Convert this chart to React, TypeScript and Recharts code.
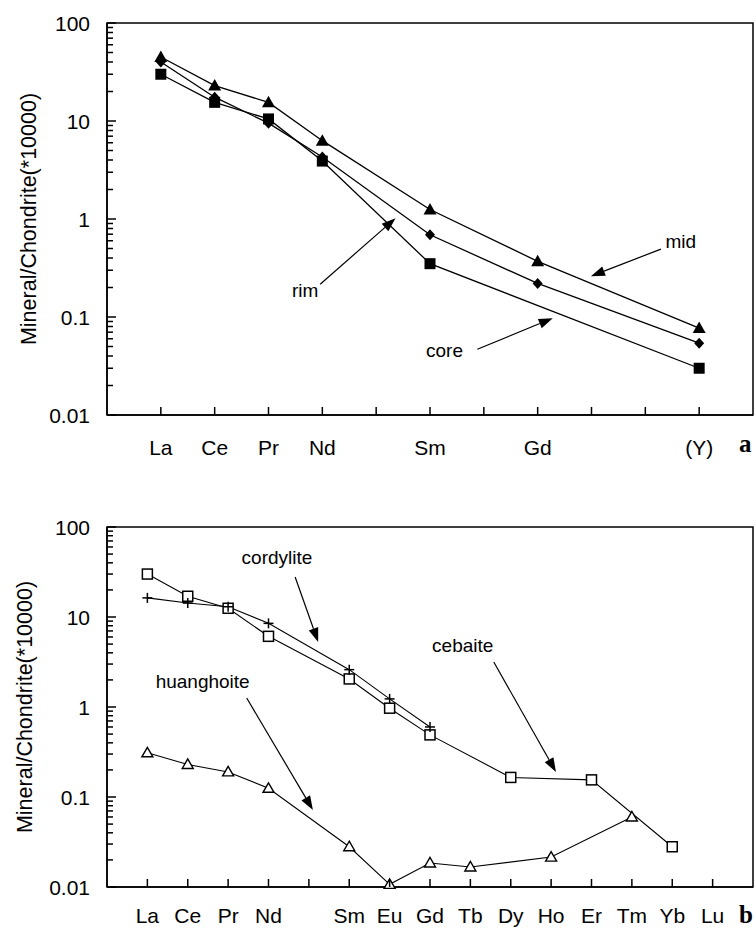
import { Line, LineChart, ReferenceArea, ReferenceDot, ReferenceLine, XAxis, YAxis } from 'recharts';

const FONT = '"Liberation Sans", Arial, Helvetica, sans-serif';

// panel a: REE positions, (Y) plotted in the Ho slot
const elementsA = ['La', 'Ce', 'Pr', 'Nd', 'Pm', 'Sm', 'Eu', 'Gd', 'Tb', 'Dy', '(Y)'];
const labelledA = ['La', 'Ce', 'Pr', 'Nd', 'Sm', 'Gd', '(Y)'];
const midA = [45, 23, 15.5, 6.3, null, 1.25, null, 0.37, null, null, 0.077];
const rimA = [40, 17.5, 9.5, 4.3, null, 0.69, null, 0.22, null, null, 0.054];
const coreA = [30, 15.5, 10.5, 3.9, null, 0.35, null, null, null, null, 0.03];

// panel b
const elementsB = ['La', 'Ce', 'Pr', 'Nd', 'Pm', 'Sm', 'Eu', 'Gd', 'Tb', 'Dy', 'Ho', 'Er', 'Tm', 'Yb', 'Lu'];
const labelledB = ['La', 'Ce', 'Pr', 'Nd', 'Sm', 'Eu', 'Gd', 'Tb', 'Dy', 'Ho', 'Er', 'Tm', 'Yb', 'Lu'];
const cebaiteB = [30, 17, 12.5, 6.1, null, 2.05, 0.97, 0.49, null, 0.165, null, 0.155, null, 0.028, null];
const cordyliteB = [16.3, 14.3, 13, 8.5, null, 2.6, 1.23, 0.6, null, null, null, null, null, null, null];
const huanghoiteB = [0.31, 0.23, 0.19, 0.125, null, 0.028, 0.0107, 0.0185, 0.0167, null, 0.0215, null, 0.06, null, null];

const majorTicks = [0.01, 0.1, 1, 10, 100];
const minorSteps = [2, 3, 4, 5, 6, 7, 8, 9];

// annotation text [label, x, y] and arrows [x1, y1, x2, y2] in data units
const notesA: [string, number, number][] = [
  ['mid', 9.66, 0.6],
  ['core', 5.27, 0.0457],
  ['rim', 2.68, 0.188],
];
const arrowsA: [number, number, number, number][] = [
  [9.29, 0.493, 7.99, 0.261],
  [5.88, 0.0469, 7.28, 0.0972],
  [2.96, 0.216, 4.36, 1.02],
];
const notesB: [string, number, number][] = [
  ['cordylite', 3.21, 46.4],
  ['huanghoite', 1.37, 1.94],
  ['cebaite', 7.81, 4.88],
];
const arrowsB: [number, number, number, number][] = [
  [3.66, 27.8, 4.23, 5.28],
  [2.46, 1.26, 4.1, 0.0718],
  [8.58, 3.16, 10.12, 0.19],
];

const yTicks = majorTicks
  .slice(0, -1)
  .flatMap((m) => [m, ...minorSteps.map((s) => Number((m * s).toPrecision(3)))])
  .concat([100]);

function buildRows(elements: string[], series: Record<string, (number | null)[]>) {
  return elements.map((el, i) => {
    const row: Record<string, number | string | null> = { x: i, el };
    Object.keys(series).forEach((k) => {
      row[k] = series[k][i];
    });
    return row;
  });
}

const rowsA = buildRows(elementsA, { mid: midA, rim: rimA, core: coreA });
const rowsB = buildRows(elementsB, { cebaite: cebaiteB, cordylite: cordyliteB, huanghoite: huanghoiteB });

// log axis: ticks point inward, labels only on decades
function YTick(props: any) {
  const { x, y, payload } = props;
  const major = majorTicks.includes(payload.value);
  return (
    <g>
      <line x1={x} y1={y} x2={x + (major ? 9 : 6)} y2={y} stroke='#000' strokeWidth={1.5} />
      {major && (
        <text x={x - 17} y={y} dy='0.36em' textAnchor='end' fontSize={21} fontFamily={FONT} fill='#000'>
          {String(payload.value)}
        </text>
      )}
    </g>
  );
}

function makeXTick(elements: string[], labelled: string[], gap: number) {
  return function XTick(props: any) {
    const { x, y, payload } = props;
    const name = elements[payload.value];
    return (
      <g>
        <line x1={x} y1={y} x2={x} y2={y - 8} stroke='#000' strokeWidth={1.5} />
        {labelled.includes(name) && (
          <text x={x} y={y + gap} dy='0.36em' textAnchor='middle' fontSize={21} fontFamily={FONT} fill='#000'>
            {name}
          </text>
        )}
      </g>
    );
  };
}

function Arrow(props: any) {
  const { x1, y1, x2, y2 } = props;
  if ([x1, y1, x2, y2].some((v) => v == null || Number.isNaN(v))) return <g />;
  const ang = Math.atan2(y2 - y1, x2 - x1);
  const len = 14;
  const half = 5;
  const bx = x2 - len * Math.cos(ang);
  const by = y2 - len * Math.sin(ang);
  const pts = [
    `${x2},${y2}`,
    `${bx - half * Math.sin(ang)},${by + half * Math.cos(ang)}`,
    `${bx + half * Math.sin(ang)},${by - half * Math.cos(ang)}`,
  ].join(' ');
  return (
    <g>
      <line x1={x1} y1={y1} x2={bx} y2={by} stroke='#000' strokeWidth={1.2} />
      <polygon points={pts} fill='#000' />
    </g>
  );
}

function noteShape(text: string) {
  return (props: any) => (
    <text x={props.cx} y={props.cy} dy='0.36em' textAnchor='middle' fontSize={19} fontFamily={FONT} fill='#000'>
      {text}
    </text>
  );
}

type Mark = 'triangle' | 'diamond' | 'square' | 'openSquare' | 'plus' | 'openTriangle';

function makeDot(kind: Mark) {
  return (props: any) => {
    const { cx, cy, index, value } = props;
    if (cx == null || cy == null || value == null) return <g key={`d-${index}`} />;
    switch (kind) {
      case 'triangle':
        return <polygon key={index} points={`${cx},${cy - 6.5} ${cx - 6.5},${cy + 5} ${cx + 6.5},${cy + 5}`} fill='#000' />;
      case 'diamond':
        return <polygon key={index} points={`${cx},${cy - 5.5} ${cx + 5},${cy} ${cx},${cy + 5.5} ${cx - 5},${cy}`} fill='#000' />;
      case 'square':
        return <rect key={index} x={cx - 5.5} y={cy - 5.5} width={11} height={11} fill='#000' />;
      case 'openSquare':
        return <rect key={index} x={cx - 5} y={cy - 5} width={10} height={10} fill='#fff' stroke='#000' strokeWidth={1.5} />;
      case 'plus':
        return (
          <g key={index}>
            <line x1={cx - 5} y1={cy} x2={cx + 5} y2={cy} stroke='#000' strokeWidth={1.5} />
            <line x1={cx} y1={cy - 5} x2={cx} y2={cy + 5} stroke='#000' strokeWidth={1.5} />
          </g>
        );
      default:
        return (
          <polygon
            key={index}
            points={`${cx},${cy - 5.5} ${cx - 5.5},${cy + 4} ${cx + 5.5},${cy + 4}`}
            fill='#fff'
            stroke='#000'
            strokeWidth={1.4}
          />
        );
    }
  };
}

const yTitle = (offset: number) => ({
  value: 'Mineral/Chondrite(*10000)',
  angle: -90,
  position: 'insideLeft' as const,
  offset,
  style: { textAnchor: 'middle', fontSize: 21.5, fontFamily: FONT, fill: '#000' },
});

export default function App() {
  const lastA = elementsA.length;
  const lastB = elementsB.length;
  return (
    <div style={{ position: 'absolute', left: 0, top: 0, width: 756, height: 931, background: '#fff' }}>
      <div style={{ position: 'absolute', left: 0, top: 0 }}>
        <LineChart width={756} height={470} data={rowsA} margin={{ top: 23, right: 3, bottom: 15, left: 0 }}>
          <XAxis
            type='number'
            dataKey='x'
            domain={[-1, lastA]}
            ticks={elementsA.map((_, i) => i)}
            interval={0}
            height={40}
            tickSize={0}
            tickMargin={0}
            tickLine={false}
            axisLine={{ stroke: '#000', strokeWidth: 1.5 }}
            tick={makeXTick(elementsA, labelledA, 32)}
          />
          <YAxis
            type='number'
            scale='log'
            domain={[0.01, 100]}
            ticks={yTicks}
            interval={0}
            width={107}
            tickSize={0}
            tickMargin={0}
            tickLine={false}
            axisLine={{ stroke: '#000', strokeWidth: 1.5 }}
            tick={YTick}
            label={yTitle(28)}
          />
          <ReferenceArea x1={-1} x2={lastA} y1={0.01} y2={100} fill='none' stroke='#000' strokeWidth={1.5} />
          <Line dataKey='core' stroke='#000' strokeWidth={1.3} connectNulls dot={makeDot('square')} isAnimationActive={false} />
          <Line dataKey='rim' stroke='#000' strokeWidth={1.3} connectNulls dot={makeDot('diamond')} isAnimationActive={false} />
          <Line dataKey='mid' stroke='#000' strokeWidth={1.3} connectNulls dot={makeDot('triangle')} isAnimationActive={false} />
          {arrowsA.map(([x1, y1, x2, y2], i) => (
            <ReferenceLine key={`aa${i}`} segment={[{ x: x1, y: y1 }, { x: x2, y: y2 }]} shape={Arrow} />
          ))}
          {notesA.map(([t, x, y]) => (
            <ReferenceDot key={t} x={x} y={y} r={1} shape={noteShape(t)} />
          ))}
        </LineChart>
      </div>
      <div style={{ position: 'absolute', left: 0, top: 470 }}>
        <LineChart width={756} height={461} data={rowsB} margin={{ top: 57, right: 3, bottom: 10, left: 0 }}>
          <XAxis
            type='number'
            dataKey='x'
            domain={[-1, lastB]}
            ticks={elementsB.map((_, i) => i)}
            interval={0}
            height={34}
            tickSize={0}
            tickMargin={0}
            tickLine={false}
            axisLine={{ stroke: '#000', strokeWidth: 1.5 }}
            tick={makeXTick(elementsB, labelledB, 28)}
          />
          <YAxis
            type='number'
            scale='log'
            domain={[0.01, 100]}
            ticks={yTicks}
            interval={0}
            width={107}
            tickSize={0}
            tickMargin={0}
            tickLine={false}
            axisLine={{ stroke: '#000', strokeWidth: 1.5 }}
            tick={YTick}
            label={yTitle(24)}
          />
          <ReferenceArea x1={-1} x2={lastB} y1={0.01} y2={100} fill='none' stroke='#000' strokeWidth={1.5} />
          <Line dataKey='huanghoite' stroke='#000' strokeWidth={1.1} connectNulls dot={makeDot('openTriangle')} isAnimationActive={false} />
          <Line dataKey='cebaite' stroke='#000' strokeWidth={1.1} connectNulls dot={makeDot('openSquare')} isAnimationActive={false} />
          <Line dataKey='cordylite' stroke='#000' strokeWidth={1.1} connectNulls dot={makeDot('plus')} isAnimationActive={false} />
          {arrowsB.map(([x1, y1, x2, y2], i) => (
            <ReferenceLine key={`ab${i}`} segment={[{ x: x1, y: y1 }, { x: x2, y: y2 }]} shape={Arrow} />
          ))}
          {notesB.map(([t, x, y]) => (
            <ReferenceDot key={t} x={x} y={y} r={1} shape={noteShape(t)} />
          ))}
        </LineChart>
      </div>
      <div style={{ position: 'absolute', left: 739, top: 430, font: 'bold 25px "Liberation Serif", "Times New Roman", serif' }}>a</div>
      <div style={{ position: 'absolute', left: 739, top: 901, font: 'bold 25px "Liberation Serif", "Times New Roman", serif' }}>b</div>
    </div>
  );
}
